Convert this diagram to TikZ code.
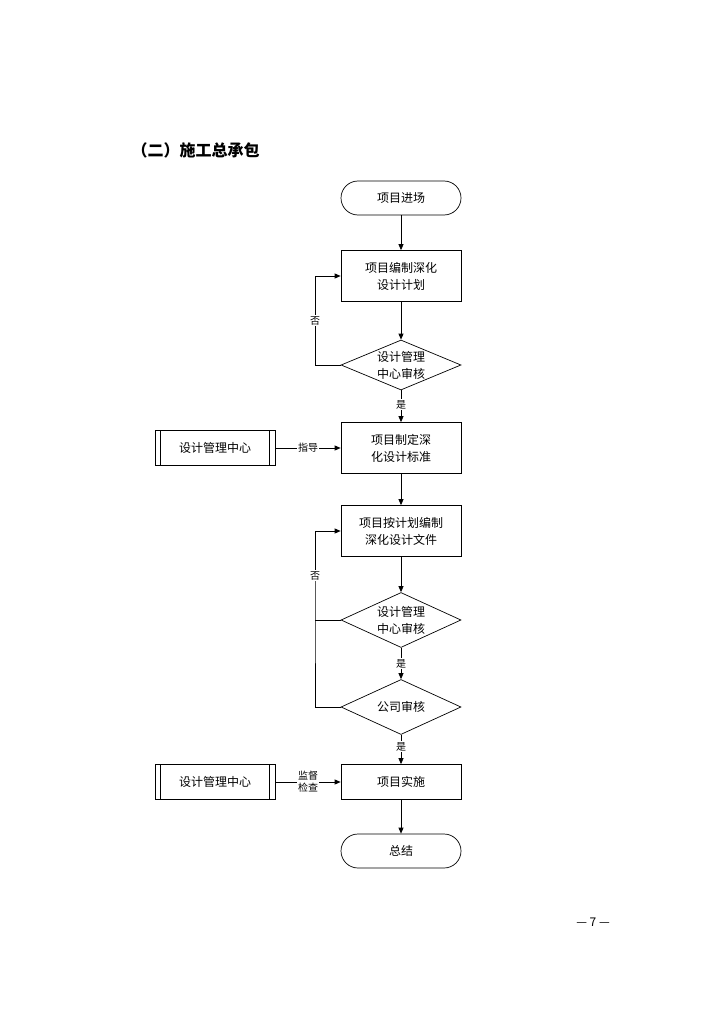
\documentclass[tikz,border=0pt]{standalone}
\usepackage{fontspec}
\usetikzlibrary{shapes.geometric,arrows.meta}
\newfontfamily\cjk{Noto Sans CJK SC}
\begin{document}
\begin{tikzpicture}[x=1pt,y=-1pt,
  every node/.style={font=\cjk\fontsize{12}{17}\selectfont,align=center},
  box/.style={draw,minimum width=120pt,minimum height=51pt,inner sep=1pt},
  sbox/.style={draw,minimum width=120pt,minimum height=35pt,inner sep=1pt},
  term/.style={draw,rounded corners=17pt,minimum width=120pt,minimum height=34pt},
  dia/.style={draw,diamond,aspect=2.2,minimum width=120pt,minimum height=50pt,inner sep=0pt},
  lab/.style={fill=white,inner sep=1pt,font=\cjk\fontsize{10}{12}\selectfont},
  arr/.style={-{Triangle[length=6pt,width=5pt]}},
  line width=0.7pt]
\useasboundingbox (0,0) rectangle (724,1024);
\node[anchor=west,font=\cjk\bfseries\fontsize{16}{18}\selectfont] (title) at (128,150) {（二）施工总承包};
\node[term] (start) at (401,198) {项目进场};
\node[box] (b1) at (401,276) {项目编制深化\\设计计划};
\node[dia] (d1) at (401,365) {设计管理\\中心审核};
\node[box] (b2) at (401,448) {项目制定深\\化设计标准};
\node[sbox] (l1) at (215,448) {设计管理中心};
\node[box] (b3) at (401,531) {项目按计划编制\\深化设计文件};
\node[dia,minimum height=55pt] (d2) at (401,620) {设计管理\\中心审核};
\node[dia,minimum height=55pt] (d3) at (401,707) {公司审核};
\node[sbox] (b4) at (401,782) {项目实施};
\node[sbox] (l2) at (215,782) {设计管理中心};
\node[term] (end) at (401,851) {总结};
\node (pg) at (593,922) {— 7 —};
\foreach \n in {l1,l2}{
  \draw ([xshift=6pt]\n.north west) -- ([xshift=6pt]\n.south west);
  \draw ([xshift=-6pt]\n.north east) -- ([xshift=-6pt]\n.south east);}
\draw[arr] (start) -- (b1);
\draw[arr] (b1) -- (d1);
\draw[arr] (d1) -- node[lab,pos=0.45]{是} (b2);
\draw[arr] (b2) -- (b3);
\draw[arr] (b3) -- (d2);
\draw[arr] (d2) -- node[lab]{是} (d3);
\draw[arr] (d3) -- node[lab,pos=0.4]{是} (b4);
\draw[arr] (b4) -- (end);
\draw[arr] (l1) -- node[lab,pos=0.5]{指导} (b2);
\draw[arr] (l2) -- node[lab,pos=0.5,font=\cjk\fontsize{10}{12}\selectfont]{监督\\检查} (b4);
\coordinate (c1) at (315,365);
\coordinate (c1t) at (315,276);
\draw[arr] (d1.west) -- (c1) -- node[lab,pos=0.5]{否} (c1t) -- (b1.west);
\coordinate (c2) at (315,707);
\coordinate (c2t) at (315,531);
\coordinate (c2m) at (315,620);
\draw[arr] (d3.west) -- (c2) -- (c2m) -- node[lab,pos=0.5]{否} (c2t) -- (b3.west);
\draw (d2.west) -- (c2m);
\end{tikzpicture}
\end{document}
